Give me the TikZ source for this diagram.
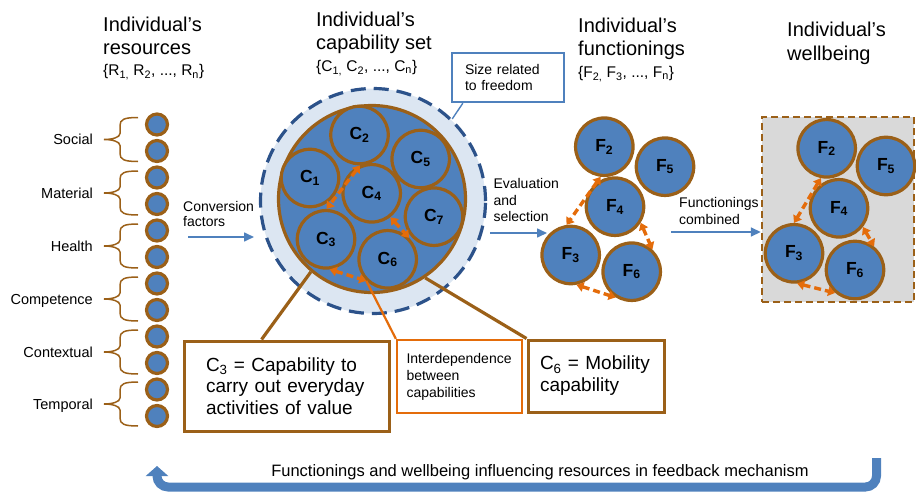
\documentclass[tikz,border=0pt]{standalone}
\usepackage{fontspec}
\setmainfont{Liberation Sans}
\usetikzlibrary{arrows.meta,calc}
\definecolor{cblue}{RGB}{79,129,189}
\definecolor{cbrown}{RGB}{155,96,24}
\definecolor{corange}{RGB}{228,108,10}
\definecolor{cring}{RGB}{220,230,242}
\definecolor{cdash}{RGB}{44,82,138}
\definecolor{cgray}{RGB}{217,217,217}
\newcommand{\fs}[2]{\fontsize{#1}{#2}\selectfont}
\begin{document}
\begin{tikzpicture}[x=1pt,y=-1pt,
  res/.style={circle,draw=cbrown,line width=3.2pt,fill=cblue,minimum size=21pt,inner sep=0pt},
  capnode/.style={circle,draw=cbrown,line width=3.2pt,fill=cblue,minimum size=57.5pt,inner sep=0pt,font=\bfseries\fs{17.5}{19}},
  oarr/.style={draw=corange,line width=3.4pt,dash pattern=on 7pt off 4pt,arrows={Triangle[length=7pt,width=9.5pt]-Triangle[length=7pt,width=9.5pt]}},
  headtxt/.style={anchor=base west,inner sep=0pt,font=\fs{20}{23}},
  subh/.style={anchor=base west,inner sep=0pt,font=\fs{15.5}{17}},
  smalltxt/.style={anchor=base west,inner sep=0pt,font=\fs{14}{17}},
  lbl/.style={anchor=base east,inner sep=0pt,font=\fs{14.5}{17}},
  brc/.style={draw=cbrown,line width=1.5pt},
  barrow/.style={draw=cblue,line width=1.6pt,-{Triangle[length=10pt,width=9pt]}},
  linkline/.style={draw=cbrown,line width=3.2pt},
  fbarrow/.style={draw=cblue,line width=9pt,rounded corners=11pt,-{Triangle[length=10pt,width=22pt]}}
]
\useasboundingbox (0,0) rectangle (916,495);

% ---------- headings ----------
\node[headtxt] (h1a) at (103,32) {Individual’s};
\node[headtxt] (h1b) at (103,55) {resources};
\node[subh] (h1c) at (103,76) {\{R\textsubscript{1,} R\textsubscript{2}, ..., R\textsubscript{n}\}};
\node[headtxt] (h2a) at (316,26.7) {Individual’s};
\node[headtxt] (h2b) at (316,50) {capability set};
\node[subh] (h2c) at (316,71.7) {\{C\textsubscript{1,} C\textsubscript{2}, ..., C\textsubscript{n}\}};
\node[headtxt] (h3a) at (578,33) {Individual’s};
\node[headtxt] (h3b) at (578,56) {functionings};
\node[subh] (h3c) at (578,77.5) {\{F\textsubscript{2,} F\textsubscript{3}, ..., F\textsubscript{n}\}};
\node[headtxt] (h4a) at (787,37) {Individual’s};
\node[headtxt] (h4b) at (787,60.5) {wellbeing};

% ---------- resources ----------
\foreach \i in {1,...,12}
  \node[res] (r\i) at (157,{124.5+26.5*(\i-1)}) {};
\foreach \m/\t [count=\k] in {139.5/Social,193/Material,246/Health,299/Competence,352/Contextual,404/Temporal}{
  \draw[brc] (138,\m-22) .. controls (124,\m-22) and (120,\m-20) .. (120,\m-14)
    -- (120,\m-6) .. controls (120,\m-2) and (112,\m) .. (104,\m)
    .. controls (112,\m) and (120,\m+2) .. (120,\m+6)
    -- (120,\m+14) .. controls (120,\m+20) and (124,\m+22) .. (138,\m+22);
  \node[lbl] (lab\k) at (93,\m+5) {\t};
}

% ---------- conversion ----------
\node[smalltxt] (conv1) at (183,211.7) {Conversion};
\node[smalltxt] (conv2) at (183,226.7) {factors};
\coordinate (cvs) at (188,237);
\coordinate (cve) at (254,237);
\draw[barrow] (cvs) -- (cve);

% ---------- capability set ----------
\node[circle,draw=cdash,fill=cring,line width=3.2pt,dash pattern=on 15pt off 8pt,minimum size=225pt,inner sep=0pt] (capout) at (373,201) {};
\node[circle,draw=cbrown,fill=cblue,line width=3.2pt,minimum size=187pt,inner sep=0pt] (capin) at (372,199) {};
\node[capnode] (C1) at (310,178) {C\textsubscript{1}};
\node[capnode] (C2) at (359.5,135) {C\textsubscript{2}};
\node[capnode] (C5) at (420.7,159) {C\textsubscript{5}};
\node[capnode] (C4) at (371.7,193.3) {C\textsubscript{4}};
\node[capnode] (C7) at (434,216.7) {C\textsubscript{7}};
\node[capnode] (C3) at (326,239.3) {C\textsubscript{3}};
\node[capnode] (C6) at (387.7,259.3) {C\textsubscript{6}};
\coordinate (c36e) at (C6.-135);
\draw[oarr] (C2.-89) -- (C3.89);
\draw[oarr] (C4.-52) -- (C6.45);
\draw[oarr] (C3.-83) -- (c36e);

% ---------- size box ----------
\node[draw=cblue,line width=2.4pt,fill=white,minimum width=112pt,minimum height=49pt,text width=86pt,align=left,inner sep=0pt,font=\fs{14}{16.5}] (sizebox) at (508,77.5) {Size related\\to freedom};
\draw[draw=cblue,line width=1.4pt] ($(sizebox.south west)+(12,0)$) -- (capout.46);

% ---------- explanation boxes ----------
\node[draw=cbrown,line width=3pt,fill=white,minimum width=205pt,minimum height=90pt,text width=161pt,align=left,inner sep=0pt,font=\fs{19}{21.7}] (c3box) at (286.5,386) {C\textsubscript{3} = Capability to\\carry out everyday\\activities of value};
\node[draw=corange,line width=2.2pt,fill=white,minimum width=125pt,minimum height=73pt,text width=106pt,align=left,inner sep=0pt,font=\fs{14}{17}] (intbox) at (459.5,376.5) {Interdependence\\between\\capabilities};
\node[draw=cbrown,line width=3pt,fill=white,minimum width=136pt,minimum height=72pt,text width=112pt,align=left,inner sep=0pt,font=\fs{19}{22}] (c6box) at (596,376) {C\textsubscript{6} = Mobility\\capability};
\draw[linkline] (capin.-130) -- ($(c3box.north west)!0.38!(c3box.north east)$);
\draw[linkline] (capin.-56) -- (c6box.north west);
\draw[draw=corange,line width=2.2pt] (c36e) -- (intbox.north west);

% ---------- evaluation ----------
\node[smalltxt] (ev1) at (493.3,188) {Evaluation};
\node[smalltxt] (ev2) at (493.3,205) {and};
\node[smalltxt] (ev3) at (493.3,221.7) {selection};
\coordinate (evs) at (490,233);
\coordinate (eve) at (547,233);
\draw[barrow] (evs) -- (eve);

% ---------- functionings ----------
\node[capnode] (F2) at (604.3,146.7) {F\textsubscript{2}};
\node[capnode] (F5) at (665,166.7) {F\textsubscript{5}};
\node[capnode] (F4) at (615,206.7) {F\textsubscript{4}};
\node[capnode] (F3) at (570.7,255) {F\textsubscript{3}};
\node[capnode] (F6) at (631.7,271.7) {F\textsubscript{6}};
\draw[oarr] (F2.-97) -- (F3.98);
\draw[oarr] (F4.-32) -- (F6.47);
\draw[oarr] (F3.-79) -- (F6.-122);

% ---------- combined ----------
\node[draw=cbrown,fill=cgray,dash pattern=on 7pt off 4pt,line width=2.4pt,minimum width=152pt,minimum height=185pt,inner sep=0pt] (wbox) at (838,209.5) {};
\node[smalltxt] (fc1) at (679,207) {Functionings};
\node[smalltxt] (fc2) at (679,224) {combined};
\coordinate (fcs) at (671,232);
\draw[barrow] (fcs) -- (fcs -| wbox.west);

\node[capnode] (W2) at (826.7,148.3) {F\textsubscript{2}};
\node[capnode] (W5) at (886,166) {F\textsubscript{5}};
\node[capnode] (W4) at (839,208.3) {F\textsubscript{4}};
\node[capnode] (W3) at (794,253.3) {F\textsubscript{3}};
\node[capnode] (W6) at (855,270) {F\textsubscript{6}};
\draw[oarr] (W2.-101) -- (W3.90);
\draw[oarr] (W4.-38) -- (W6.51);
\draw[oarr] (W3.-84) -- (W6.-131);

% ---------- feedback ----------
\node[anchor=base,inner sep=0pt,font=\fs{16.5}{20}] (fbtxt) at (540,476) {Functionings and wellbeing influencing resources in feedback mechanism};
\coordinate (fbtop) at (876.5,458);
\coordinate (fbtip) at (157,466);
\draw[fbarrow] (fbtop) -- ++(0,29) -| (fbtip);
\end{tikzpicture}
\end{document}
